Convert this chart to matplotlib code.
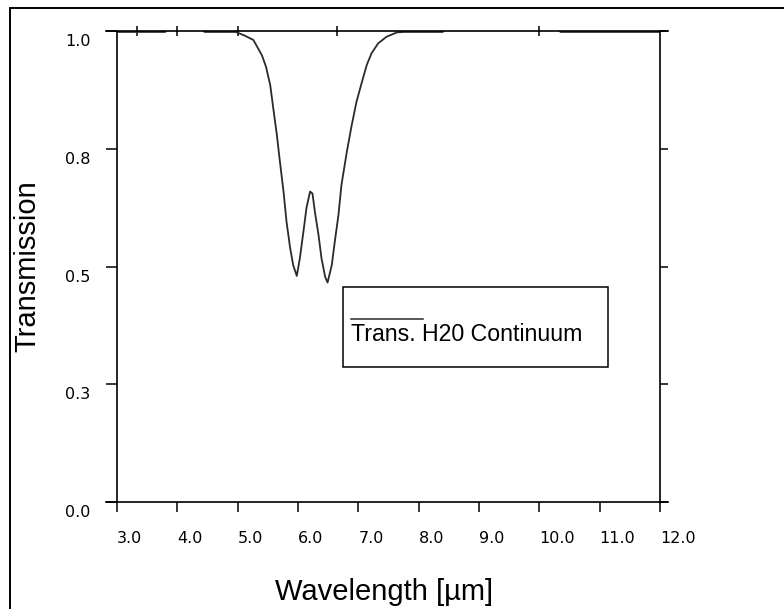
import matplotlib
matplotlib.use("Agg")
import matplotlib.pyplot as plt
import matplotlib.transforms as mtransforms
from matplotlib.lines import Line2D
from matplotlib.patches import Rectangle

# transmission curve of the H2O continuum, wavelength in micrometres
wavelength = [3.00, 3.80, 3.85, 4.40, 4.45, 4.97, 5.12, 5.26, 5.40, 5.47,
              5.54, 5.59, 5.65, 5.70, 5.76, 5.81, 5.87, 5.92, 5.98, 6.03,
              6.09, 6.14, 6.20, 6.24, 6.28, 6.34, 6.39, 6.45, 6.49, 6.56,
              6.61, 6.67, 6.72, 6.81, 6.89, 6.97, 7.06, 7.14, 7.22, 7.33,
              7.47, 7.64, 7.75, 8.40, 8.45, 10.30, 10.35, 12.00]
transmission = [0.998, 0.998, 1.006, 1.006, 0.998, 0.998, 0.990, 0.981, 0.949, 0.924,
                0.885, 0.836, 0.779, 0.723, 0.659, 0.595, 0.539, 0.503, 0.480, 0.517,
                0.574, 0.624, 0.659, 0.655, 0.616, 0.567, 0.517, 0.478, 0.466, 0.503,
                0.553, 0.609, 0.673, 0.744, 0.800, 0.850, 0.892, 0.928, 0.953, 0.974,
                0.988, 0.997, 0.998, 0.998, 1.006, 1.006, 0.998, 0.998]

x_ticks = [3, 4, 5, 6, 7, 8, 9, 10, 11, 12]
x_tick_labels = ["3.0", "4.0", "5.0", "6.0", "7.0", "8.0", "9.0", "10.0", "11.0", "12.0"]
y_ticks = [0.0, 0.25, 0.5, 0.75, 1.0]
y_tick_labels = ["0.0", "0.3", "0.5", "0.8", "1.0"]
top_ticks = [3.33, 4.0, 5.0, 6.65, 10.0]

plt.rcParams["font.family"] = ["Liberation Sans", "DejaVu Sans"]

fig = plt.figure(figsize=(7.84, 6.09), dpi=100)
ax = fig.add_axes([117 / 784, 107 / 609, 543 / 784, 471 / 609])

ax.plot(wavelength, transmission, color="#2a2a2a", lw=1.3)
ax.set_xlim(3, 12)
ax.set_ylim(0, 1)

# axis lines: horizontal ones run a little past the frame
for side in ["top", "bottom", "left", "right"]:
    ax.spines[side].set_linewidth(1.2)
ax.spines["top"].set_bounds(2.82, 12.13)
ax.spines["bottom"].set_bounds(2.82, 12.13)

ax.set_xticks(x_ticks)
ax.set_xticklabels(x_tick_labels, ha="left", fontsize=11.5, family="DejaVu Sans")
ax.set_yticks(y_ticks)
ax.set_yticklabels(y_tick_labels, fontsize=11.5, family="DejaVu Sans")
ax.tick_params(axis="x", direction="out", length=7.2, width=1.1, pad=14)
ax.tick_params(axis="y", direction="out", length=8, width=1.1, pad=11)

shift = mtransforms.ScaledTranslation(0, -0.09, fig.dpi_scale_trans)
for lbl in ax.get_yticklabels():
    lbl.set_transform(lbl.get_transform() + shift)

sec_top = ax.secondary_xaxis("top")
sec_top.set_xticks(top_ticks)
sec_top.tick_params(direction="inout", length=7.2, width=1.1, labeltop=False)
sec_top.spines["top"].set_visible(False)

sec_right = ax.secondary_yaxis("right")
sec_right.set_yticks(y_ticks)
sec_right.tick_params(direction="out", length=5.8, width=1.1, labelright=False)
sec_right.spines["right"].set_visible(False)

ax.set_xlabel("Wavelength [\u00b5m]", fontsize=21)
ax.xaxis.label.set_va("center")
ax.xaxis.set_label_coords(0.4917, -0.191)
ax.set_ylabel("Transmission", fontsize=21)
ax.yaxis.label.set_va("center")
ax.yaxis.label.set_ha("center")
ax.yaxis.set_label_coords(-0.1657, 0.5)

# legend box with the line sample sitting above its text
ax.add_patch(Rectangle((0.416, 0.2866), 0.488, 0.17, transform=ax.transAxes,
                       fill=False, edgecolor="black", lw=1.1))
ax.add_line(Line2D([0.431, 0.5635], [0.3885, 0.3885], transform=ax.transAxes,
                   color="#2a2a2a", lw=1.1))
ax.text(0.431, 0.3546, "Trans. H20 Continuum", transform=ax.transAxes,
        fontsize=16.7, ha="left", va="center")

# outer frame
fig.add_artist(Rectangle((10 / 784, -0.1), 1.2, 1.1 - 8 / 609,
                         transform=fig.transFigure, fill=False,
                         edgecolor="black", lw=1.4))

fig.savefig("out.png", dpi=100)
